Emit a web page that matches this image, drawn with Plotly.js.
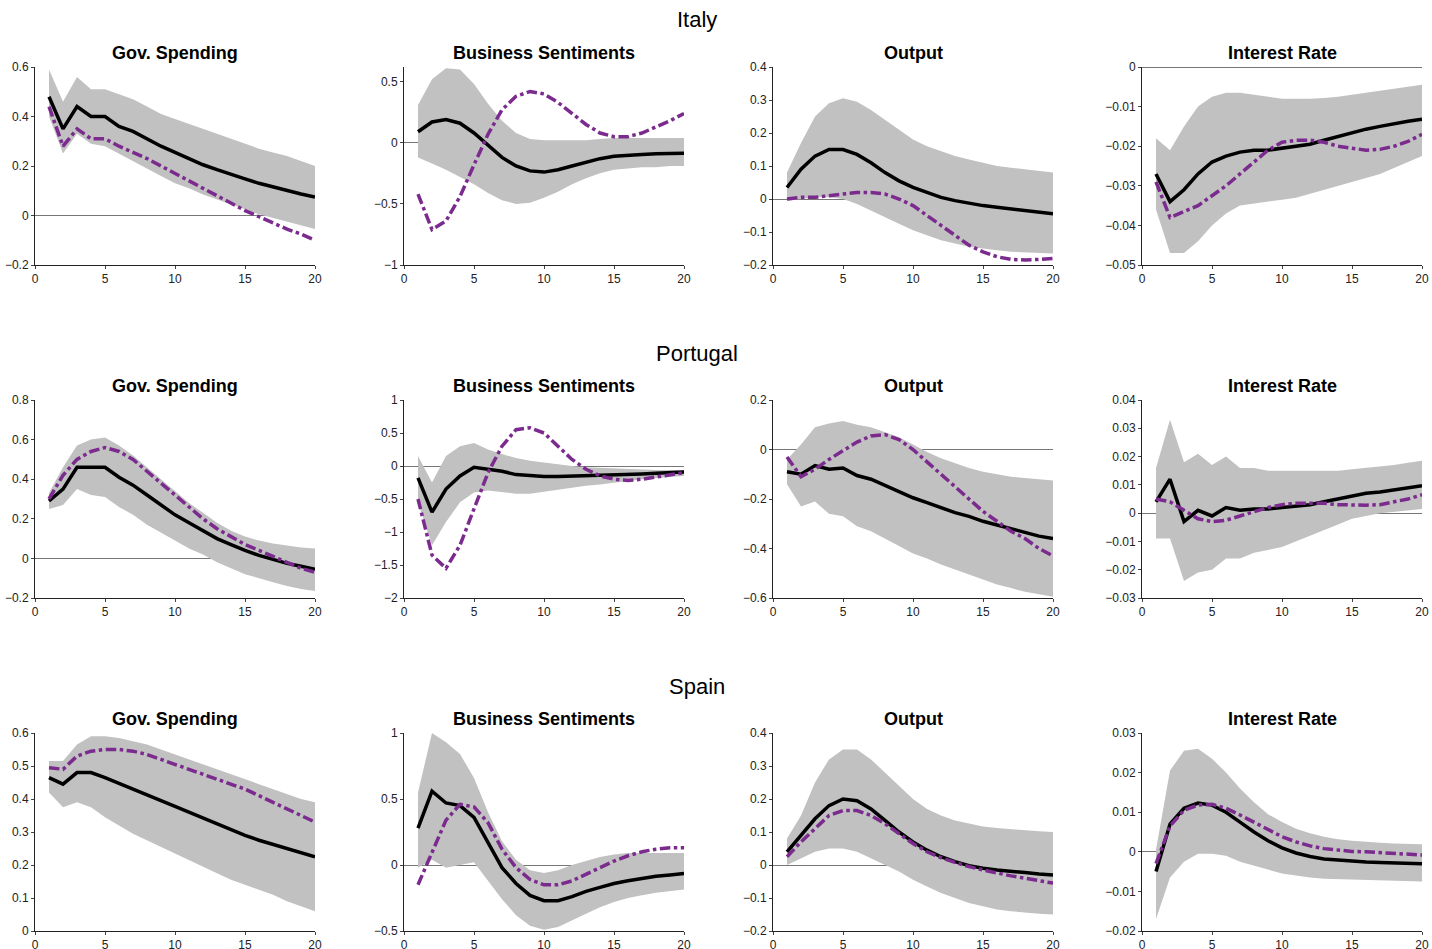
<!DOCTYPE html>
<html><head><meta charset="utf-8">
<script src="https://cdn.plot.ly/plotly-3.0.1.min.js"></script>
<style>body{margin:0;background:#fff}#chart{width:1432px;height:949px}</style>
</head><body><div id="chart"></div>
<script>
const horizon = [1,2,3,4,5,6,7,8,9,10,11,12,13,14,15,16,17,18,19,20];
const countries = ['Italy', 'Portugal', 'Spain'];
const variables = ['Gov. Spending', 'Business Sentiments', 'Output', 'Interest Rate'];

// Italy
const itGovBase = [0.48,0.35,0.44,0.40,0.40,0.36,0.34,0.31,0.28,0.255,0.23,0.205,0.185,0.165,0.148,0.13,0.115,0.10,0.087,0.075];
const itGovAlt  = [0.44,0.28,0.35,0.31,0.31,0.28,0.255,0.23,0.20,0.17,0.14,0.11,0.08,0.05,0.02,-0.005,-0.03,-0.055,-0.075,-0.10];
const itGovUp   = [0.59,0.46,0.56,0.51,0.51,0.49,0.47,0.44,0.41,0.39,0.37,0.35,0.33,0.31,0.29,0.27,0.255,0.24,0.22,0.20];
const itGovLo   = [0.40,0.25,0.33,0.29,0.28,0.25,0.22,0.19,0.16,0.13,0.11,0.085,0.065,0.045,0.025,0.005,-0.01,-0.025,-0.04,-0.055];
const itBsBase = [0.09,0.17,0.19,0.16,0.08,-0.02,-0.12,-0.19,-0.23,-0.24,-0.22,-0.19,-0.16,-0.13,-0.11,-0.10,-0.095,-0.09,-0.09,-0.085];
const itBsAlt  = [-0.42,-0.71,-0.64,-0.44,-0.18,0.07,0.27,0.38,0.42,0.40,0.33,0.24,0.15,0.08,0.05,0.05,0.08,0.13,0.18,0.24];
const itBsUp   = [0.31,0.52,0.61,0.60,0.48,0.32,0.18,0.08,0.03,0.02,0.02,0.02,0.02,0.03,0.04,0.04,0.04,0.04,0.04,0.04];
const itBsLo   = [-0.12,-0.17,-0.22,-0.28,-0.34,-0.41,-0.47,-0.50,-0.49,-0.45,-0.40,-0.34,-0.29,-0.25,-0.22,-0.21,-0.20,-0.20,-0.19,-0.19];
const itOutBase = [0.035,0.09,0.13,0.15,0.15,0.135,0.11,0.08,0.055,0.035,0.02,0.005,-0.005,-0.013,-0.02,-0.025,-0.03,-0.035,-0.04,-0.045];
const itOutAlt  = [0.0,0.005,0.005,0.01,0.015,0.02,0.02,0.015,0.0,-0.02,-0.05,-0.08,-0.11,-0.14,-0.16,-0.175,-0.183,-0.185,-0.183,-0.18];
const itOutUp   = [0.08,0.17,0.25,0.29,0.305,0.295,0.27,0.24,0.21,0.18,0.16,0.145,0.13,0.12,0.11,0.10,0.095,0.09,0.085,0.08];
const itOutLo   = [-0.005,0.0,0.005,0.005,0.0,-0.015,-0.035,-0.055,-0.075,-0.095,-0.11,-0.125,-0.135,-0.145,-0.15,-0.155,-0.16,-0.16,-0.163,-0.165];
const itIrBase = [-0.027,-0.034,-0.031,-0.027,-0.024,-0.0225,-0.0215,-0.021,-0.021,-0.0205,-0.020,-0.0195,-0.0185,-0.0175,-0.0165,-0.0157,-0.015,-0.0143,-0.0137,-0.0132];
const itIrAlt  = [-0.029,-0.038,-0.0365,-0.035,-0.0325,-0.03,-0.027,-0.024,-0.021,-0.019,-0.0185,-0.0185,-0.019,-0.020,-0.0205,-0.021,-0.0208,-0.020,-0.0188,-0.017];
const itIrUp   = [-0.018,-0.021,-0.015,-0.010,-0.0075,-0.0065,-0.0065,-0.007,-0.0075,-0.008,-0.008,-0.008,-0.0078,-0.0075,-0.007,-0.0065,-0.006,-0.0055,-0.005,-0.0045];
const itIrLo   = [-0.036,-0.047,-0.047,-0.044,-0.040,-0.037,-0.035,-0.0345,-0.034,-0.0335,-0.033,-0.032,-0.031,-0.030,-0.029,-0.028,-0.027,-0.0255,-0.024,-0.0225];

// Portugal
const ptGovBase = [0.29,0.35,0.46,0.46,0.46,0.41,0.37,0.32,0.27,0.22,0.18,0.14,0.10,0.07,0.04,0.015,-0.005,-0.025,-0.04,-0.055];
const ptGovAlt  = [0.30,0.42,0.50,0.54,0.56,0.54,0.50,0.44,0.38,0.32,0.26,0.20,0.15,0.11,0.07,0.04,0.01,-0.02,-0.05,-0.07];
const ptGovUp   = [0.33,0.46,0.57,0.60,0.61,0.57,0.52,0.46,0.40,0.34,0.28,0.23,0.18,0.14,0.11,0.09,0.075,0.065,0.055,0.05];
const ptGovLo   = [0.25,0.27,0.35,0.32,0.31,0.26,0.22,0.17,0.13,0.09,0.05,0.02,-0.02,-0.05,-0.08,-0.10,-0.12,-0.14,-0.155,-0.165];
const ptBsBase = [-0.18,-0.70,-0.35,-0.15,-0.02,-0.05,-0.08,-0.13,-0.15,-0.16,-0.16,-0.155,-0.15,-0.145,-0.14,-0.13,-0.12,-0.11,-0.10,-0.09];
const ptBsAlt  = [-0.50,-1.35,-1.55,-1.20,-0.65,-0.10,0.30,0.55,0.58,0.50,0.30,0.10,-0.05,-0.15,-0.20,-0.22,-0.20,-0.17,-0.13,-0.10];
const ptBsUp   = [0.15,-0.25,0.15,0.30,0.35,0.25,0.18,0.12,0.08,0.05,0.02,0.0,-0.02,-0.03,-0.04,-0.05,-0.05,-0.06,-0.06,-0.06];
const ptBsLo   = [-0.55,-1.20,-0.85,-0.55,-0.40,-0.37,-0.40,-0.42,-0.42,-0.40,-0.37,-0.33,-0.30,-0.28,-0.25,-0.23,-0.20,-0.18,-0.16,-0.15];
const ptOutBase = [-0.09,-0.10,-0.065,-0.08,-0.075,-0.105,-0.12,-0.145,-0.17,-0.195,-0.215,-0.235,-0.255,-0.27,-0.29,-0.305,-0.32,-0.335,-0.35,-0.36];
const ptOutAlt  = [-0.03,-0.11,-0.08,-0.04,-0.005,0.03,0.055,0.06,0.04,0.0,-0.05,-0.10,-0.15,-0.20,-0.25,-0.29,-0.33,-0.36,-0.40,-0.43];
const ptOutUp   = [-0.04,0.02,0.09,0.105,0.115,0.10,0.09,0.07,0.05,0.02,-0.01,-0.035,-0.055,-0.075,-0.09,-0.10,-0.11,-0.115,-0.12,-0.125];
const ptOutLo   = [-0.14,-0.23,-0.21,-0.26,-0.27,-0.31,-0.33,-0.36,-0.39,-0.42,-0.44,-0.465,-0.485,-0.505,-0.525,-0.545,-0.56,-0.575,-0.585,-0.595];
const ptIrBase = [0.004,0.012,-0.003,0.001,-0.001,0.002,0.001,0.0015,0.0015,0.002,0.0025,0.003,0.004,0.005,0.006,0.007,0.0075,0.0083,0.009,0.0097];
const ptIrAlt  = [0.005,0.004,0.001,-0.002,-0.003,-0.0025,-0.001,0.0005,0.002,0.003,0.0035,0.0035,0.0035,0.003,0.0028,0.0028,0.003,0.004,0.005,0.0065];
const ptIrUp   = [0.016,0.033,0.018,0.021,0.017,0.020,0.016,0.016,0.015,0.015,0.015,0.0148,0.0148,0.015,0.0155,0.016,0.0165,0.017,0.0178,0.0185];
const ptIrLo   = [-0.009,-0.009,-0.024,-0.021,-0.020,-0.016,-0.016,-0.014,-0.013,-0.012,-0.010,-0.008,-0.006,-0.004,-0.002,-0.001,0.0,0.0005,0.001,0.0015];

// Spain
const esGovBase = [0.465,0.445,0.48,0.48,0.465,0.447,0.43,0.412,0.395,0.378,0.36,0.342,0.325,0.307,0.29,0.275,0.262,0.25,0.237,0.225];
const esGovAlt  = [0.495,0.49,0.53,0.545,0.55,0.55,0.545,0.535,0.52,0.505,0.49,0.475,0.46,0.445,0.43,0.41,0.39,0.37,0.35,0.33];
const esGovUp   = [0.515,0.515,0.565,0.59,0.59,0.585,0.575,0.565,0.55,0.535,0.52,0.505,0.49,0.475,0.46,0.445,0.43,0.415,0.40,0.39];
const esGovLo   = [0.42,0.375,0.39,0.375,0.345,0.32,0.295,0.275,0.255,0.235,0.215,0.195,0.175,0.155,0.14,0.125,0.11,0.09,0.075,0.06];
const esBsBase = [0.28,0.56,0.47,0.45,0.36,0.17,-0.02,-0.14,-0.23,-0.27,-0.27,-0.24,-0.20,-0.17,-0.14,-0.12,-0.10,-0.085,-0.075,-0.065];
const esBsAlt  = [-0.15,0.10,0.34,0.46,0.44,0.32,0.12,-0.02,-0.11,-0.15,-0.15,-0.12,-0.07,-0.02,0.03,0.07,0.10,0.12,0.13,0.13];
const esBsUp   = [0.55,1.0,0.93,0.84,0.66,0.40,0.18,0.04,-0.04,-0.06,-0.04,0.0,0.03,0.06,0.08,0.09,0.09,0.09,0.09,0.09];
const esBsLo   = [-0.02,0.04,-0.02,0.0,0.02,-0.12,-0.26,-0.38,-0.46,-0.49,-0.47,-0.42,-0.37,-0.32,-0.28,-0.25,-0.23,-0.21,-0.195,-0.185];
const esOutBase = [0.04,0.09,0.14,0.18,0.20,0.195,0.17,0.135,0.10,0.07,0.045,0.025,0.01,-0.002,-0.01,-0.015,-0.02,-0.023,-0.027,-0.03];
const esOutAlt  = [0.025,0.07,0.11,0.15,0.165,0.165,0.15,0.125,0.095,0.065,0.04,0.022,0.008,-0.005,-0.015,-0.025,-0.033,-0.04,-0.047,-0.055];
const esOutUp   = [0.08,0.15,0.25,0.32,0.35,0.35,0.32,0.28,0.24,0.20,0.17,0.15,0.135,0.125,0.117,0.112,0.108,0.105,0.102,0.10];
const esOutLo   = [0.0,0.02,0.04,0.05,0.05,0.04,0.02,0.0,-0.02,-0.045,-0.065,-0.085,-0.10,-0.115,-0.125,-0.135,-0.14,-0.145,-0.148,-0.15];
const esIrBase = [-0.005,0.007,0.011,0.0123,0.0118,0.010,0.0075,0.005,0.0028,0.001,-0.0003,-0.0012,-0.0018,-0.0021,-0.0024,-0.0026,-0.0027,-0.0028,-0.0029,-0.003];
const esIrAlt  = [-0.003,0.0065,0.0105,0.0118,0.012,0.011,0.0093,0.0075,0.0055,0.0038,0.0025,0.0015,0.0008,0.0004,0.0001,0.0,-0.0002,-0.0004,-0.0006,-0.0008];
const esIrUp   = [0.0005,0.0205,0.0255,0.026,0.0235,0.02,0.016,0.0125,0.0095,0.0075,0.0058,0.0047,0.0038,0.0032,0.0028,0.0025,0.0023,0.0021,0.002,0.0019];
const esIrLo   = [-0.017,-0.0065,-0.0025,-0.0005,-0.0005,-0.001,-0.0025,-0.0035,-0.0045,-0.0055,-0.006,-0.0065,-0.0068,-0.007,-0.0071,-0.0072,-0.0073,-0.0074,-0.0074,-0.0075];

// y-axis ranges / tick steps per panel, row by row
const yRanges = [
  [[-0.2,0.6],[-1,0.62],[-0.2,0.4],[-0.05,0]],
  [[-0.2,0.8],[-2,1],[-0.6,0.2],[-0.03,0.04]],
  [[0,0.6],[-0.5,1],[-0.2,0.4],[-0.02,0.03]],
];
const yDticks = [[0.2,0.5,0.1,0.01],[0.2,0.5,0.2,0.01],[0.1,0.5,0.1,0.01]];

const panels = [
  [[itGovBase,itGovAlt,itGovUp,itGovLo],[itBsBase,itBsAlt,itBsUp,itBsLo],[itOutBase,itOutAlt,itOutUp,itOutLo],[itIrBase,itIrAlt,itIrUp,itIrLo]],
  [[ptGovBase,ptGovAlt,ptGovUp,ptGovLo],[ptBsBase,ptBsAlt,ptBsUp,ptBsLo],[ptOutBase,ptOutAlt,ptOutUp,ptOutLo],[ptIrBase,ptIrAlt,ptIrUp,ptIrLo]],
  [[esGovBase,esGovAlt,esGovUp,esGovLo],[esBsBase,esBsAlt,esBsUp,esBsLo],[esOutBase,esOutAlt,esOutUp,esOutLo],[esIrBase,esIrAlt,esIrUp,esIrLo]],
];

const W = 1432, H = 949;
const colLeft = [35, 404, 773, 1142], panelW = 280;
const rowTop = [67, 400, 733], panelH = 198;

const traces = [];
const layout = {
  width: W, height: H, margin: { l: 0, r: 0, t: 0, b: 0 },
  showlegend: false, paper_bgcolor: '#fff', plot_bgcolor: '#fff',
  font: { family: 'Liberation Sans, Arial, sans-serif', size: 12, color: '#222' },
  annotations: [],
};

let n = 0;
for (let r = 0; r < 3; r++) {
  layout.annotations.push({
    text: countries[r], xref: 'paper', yref: 'paper', x: 0.487, y: 1 - (rowTop[r] - 47) / H,
    xanchor: 'center', yanchor: 'middle', showarrow: false, font: { size: 22, color: '#000' },
  });
  for (let c = 0; c < 4; c++) {
    n++;
    const xa = n === 1 ? 'x' : 'x' + n, ya = n === 1 ? 'y' : 'y' + n;
    const [base, alt, up, lo] = panels[r][c];
    traces.push({
      x: horizon.concat(horizon.slice().reverse()), y: up.concat(lo.slice().reverse()),
      xaxis: xa, yaxis: ya, type: 'scatter', mode: 'lines', fill: 'toself',
      fillcolor: '#c1c1c1', line: { width: 0 }, hoverinfo: 'skip',
    });
    traces.push({ x: horizon, y: base, xaxis: xa, yaxis: ya, mode: 'lines', line: { color: '#000', width: 3.5 } });
    traces.push({ x: horizon, y: alt, xaxis: xa, yaxis: ya, mode: 'lines', line: { color: '#7b2a8e', width: 3.5, dash: 'dashdot' } });

    const axKey = n === 1 ? '' : n;
    layout['xaxis' + axKey] = {
      domain: [colLeft[c] / W, (colLeft[c] + panelW) / W], anchor: ya,
      range: [0, 20], dtick: 5, showgrid: false, zeroline: false,
      showline: true, linecolor: '#222', ticks: 'outside', ticklen: 3, tickfont: { size: 12 },
    };
    layout['yaxis' + axKey] = {
      domain: [1 - (rowTop[r] + panelH) / H, 1 - rowTop[r] / H], anchor: xa,
      range: yRanges[r][c], dtick: yDticks[r][c], showgrid: false,
      zeroline: true, zerolinecolor: '#777', zerolinewidth: 1,
      showline: true, linecolor: '#222', ticks: 'outside', ticklen: 3, tickfont: { size: 12 },
    };
    layout.annotations.push({
      text: '<b>' + variables[c] + '</b>', xref: 'paper', yref: 'paper',
      x: (colLeft[c] + panelW / 2) / W, y: 1 - (rowTop[r] - 14) / H,
      xanchor: 'center', yanchor: 'middle', showarrow: false, font: { size: 18, color: '#000' },
    });
  }
}

Plotly.newPlot('chart', traces, layout, { displayModeBar: false, staticPlot: true });
</script></body></html>
